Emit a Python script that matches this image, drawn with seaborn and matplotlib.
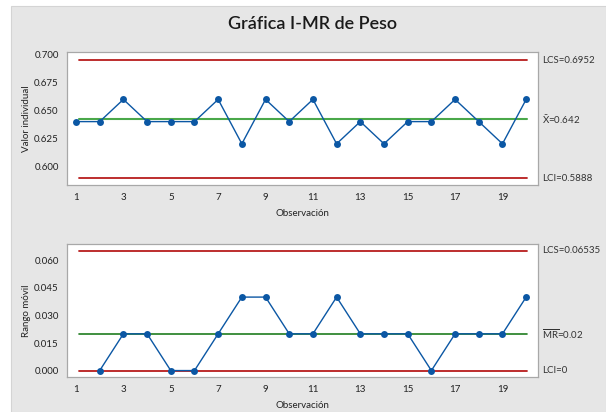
import numpy as np
import pandas as pd
import matplotlib
matplotlib.use("Agg")
import matplotlib.pyplot as plt
import seaborn as sns
from matplotlib.patches import Rectangle

# Data
obs = list(range(1, 21))
peso = [0.64, 0.64, 0.66, 0.64, 0.64, 0.64, 0.66, 0.62, 0.66, 0.64,
        0.66, 0.62, 0.64, 0.62, 0.64, 0.64, 0.66, 0.64, 0.62, 0.66]
mr_obs = list(range(2, 21))
mr = [0.0, 0.02, 0.02, 0.0, 0.0, 0.02, 0.04, 0.04, 0.02, 0.02,
      0.04, 0.02, 0.02, 0.02, 0.0, 0.02, 0.02, 0.02, 0.04]

# control limits
i_lcs, i_cent, i_lci = 0.6952, 0.642, 0.5888
mr_lcs, mr_cent, mr_lci = 0.06535, 0.02, 0.0
i_labels = ["LCS=0.6952", r"$\bar{\mathrm{X}}$=0.642", "LCI=0.5888"]
mr_labels = ["LCS=0.06535", r"$\overline{\mathrm{MR}}$=0.02", "LCI=0"]

i_yticks = [0.600, 0.625, 0.650, 0.675, 0.700]
mr_yticks = [0.000, 0.015, 0.030, 0.045, 0.060]
xticks = [1, 3, 5, 7, 9, 11, 13, 15, 17, 19]

df_i = pd.DataFrame({"obs": obs, "valor": peso})
df_mr = pd.DataFrame({"obs": mr_obs, "rango": mr})

sns.set_style("white")
plt.rcParams["font.family"] = ["Lato", "DejaVu Sans"]
plt.rcParams["mathtext.fontset"] = "custom"
plt.rcParams["mathtext.rm"] = "Lato"

BG = "#e6e6e6"
RED = "#b81c1c"
GREEN_I = "#4aa84a"
GREEN_MR = "#1f7d1f"
BLUE = "#0b57a4"
SPINE = "#a8a8a8"
TXT = "#222222"

fig = plt.figure(figsize=(6.06, 4.12), dpi=100)
fig.patch.set_facecolor("white")
fig.patches.append(Rectangle((11 / 606, 0), 1 - 11 / 606, 1 - 6 / 412,
                             transform=fig.transFigure, facecolor=BG,
                             edgecolor="#d4d4d4", lw=0.8, zorder=-5))

W, H = 606, 412
def box(l, t, r, b):
    return [l / W, 1 - b / H, (r - l) / W, (b - t) / H]

ax1 = fig.add_axes(box(67, 52, 538, 185))
ax2 = fig.add_axes(box(67, 244, 538, 377))

def style(ax):
    ax.set_facecolor("white")
    for s in ax.spines.values():
        s.set_color(SPINE)
        s.set_linewidth(0.9)
    ax.tick_params(direction="out", length=4, width=0.8, color=SPINE,
                   labelsize=7, labelcolor=TXT, pad=2)
    ax.set_xticks(xticks)
    ax.set_xlim(0.62, 20.5)

def limits(ax, vals, labels, colors, widths):
    for v, lab, c, w in zip(vals, labels, colors, widths):
        ax.axhline(v, xmin=0.025, xmax=0.977, color=c, lw=w, zorder=1)
        ax.text(1.009, v, lab, transform=ax.get_yaxis_transform(),
                ha="left", va="center", fontsize=7, color="#333333")

# I chart
limits(ax1, [i_lcs, i_cent, i_lci], i_labels, [RED, GREEN_I, RED], [1.3, 1.5, 1.3])
sns.lineplot(data=df_i, x="obs", y="valor", ax=ax1, color=BLUE, lw=1.0,
             marker="o", markersize=5, markeredgewidth=0, zorder=3)
style(ax1)
ax1.set_yticks(i_yticks)
ax1.set_yticklabels([f"{v:.3f}" for v in i_yticks])
ax1.set_ylim(0.5829, 0.7027)
ax1.set_xlabel("Observación", fontsize=7, color=TXT, labelpad=5)
ax1.set_ylabel("Valor individual", fontsize=7, color=TXT, labelpad=2)

# MR chart
limits(ax2, [mr_lcs, mr_cent, mr_lci], mr_labels, [RED, GREEN_MR, RED], [1.3, 1.2, 1.3])
sns.lineplot(data=df_mr, x="obs", y="rango", ax=ax2, color=BLUE, lw=1.0,
             marker="o", markersize=5, markeredgewidth=0, zorder=3)
style(ax2)
ax2.set_yticks(mr_yticks)
ax2.set_yticklabels([f"{v:.3f}" for v in mr_yticks])
ax2.set_ylim(-0.0035, 0.0689)
ax2.set_xlabel("Observación", fontsize=7, color=TXT, labelpad=5)
ax2.set_ylabel("Rango móvil", fontsize=7, color=TXT, labelpad=2)

fig.text(312 / W, 1 - 24 / H, "Gráfica I-MR de Peso", ha="center", va="center",
         fontsize=13, fontweight="semibold", color="#1a1a1a")

fig.savefig("out.png", dpi=100, facecolor=fig.get_facecolor())
